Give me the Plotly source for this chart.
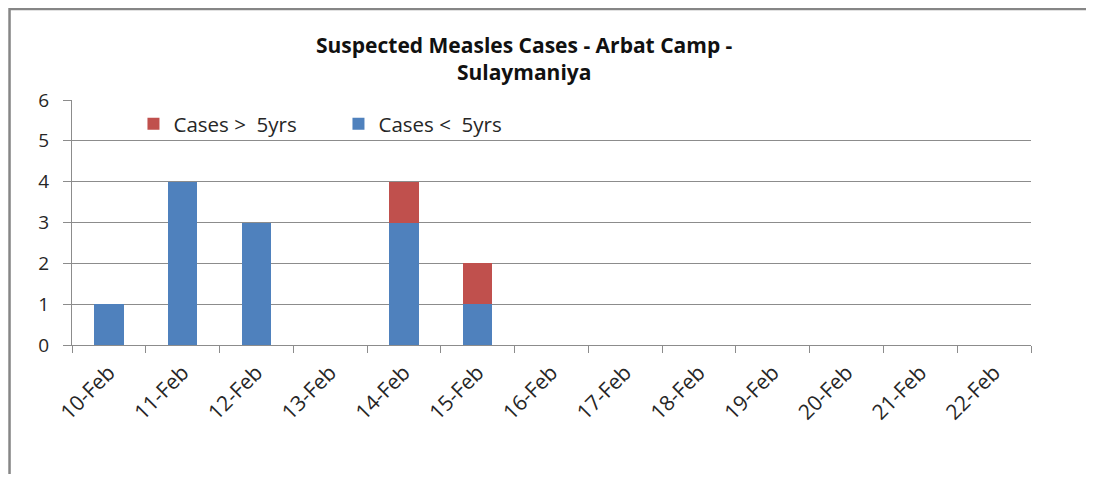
import plotly.graph_objects as go

dates = ["10-Feb", "11-Feb", "12-Feb", "13-Feb", "14-Feb", "15-Feb", "16-Feb",
         "17-Feb", "18-Feb", "19-Feb", "20-Feb", "21-Feb", "22-Feb"]
under5 = [1, 4, 3, 0, 3, 1, 0, 0, 0, 0, 0, 0, 0]
over5 = [0, 0, 0, 0, 1, 1, 0, 0, 0, 0, 0, 0, 0]

# page body has an 8px margin; size the figure to fill the rest of the window
OFF = 8
W, H = 1094 - 2 * OFF, 482 - 2 * OFF
L, T = 71.5 - OFF, 100 - OFF
R = W - (1031 - OFF)
B = H - (345 - OFF)
pw = W - L - R
ph = H - T - B

FONT = "Open Sans"
TXT = "#262626"
grid = "#8c8c8c"


def px_x(x):  # window px -> plot-area paper fraction
    return (x - OFF - L) / pw


def px_y(y):
    return (H - B - (y - OFF)) / ph


fig = go.Figure()
fig.add_trace(go.Bar(x=dates, y=under5, name="Cases <  5yrs",
                     marker=dict(color="#4f81bd", line=dict(width=0)), legendrank=2))
fig.add_trace(go.Bar(x=dates, y=over5, name="Cases >  5yrs",
                     marker=dict(color="#c0504d", line=dict(width=0)), legendrank=1))

fig.update_layout(
    width=W, height=H,
    barmode="stack", bargap=0.6,
    plot_bgcolor="white", paper_bgcolor="white",
    margin=dict(l=L, r=R, t=T, b=B, autoexpand=False),
    font=dict(family=FONT, size=16, color=TXT),
    showlegend=True,
    legend=dict(orientation="h", traceorder="normal", x=px_x(133), xanchor="left",
                y=px_y(124), yanchor="middle", bgcolor="rgba(0,0,0,0)",
                font=dict(family=FONT, size=20.5, color=TXT),
                entrywidth=160, itemclick=False),
    xaxis=dict(type="category", showgrid=False, showline=True, linecolor=grid, linewidth=1,
               ticks="outside", tickson="boundaries", ticklen=7, tickcolor=grid,
               tickangle=-45, ticklabelstandoff=6,
               tickfont=dict(family=FONT, size=21, color=TXT),
               range=[-0.5, 12.5]),
    yaxis=dict(range=[0, 6], dtick=1, showgrid=True, gridcolor=grid, gridwidth=1,
               showline=True, linecolor=grid, linewidth=1, ticks="outside", ticklen=8,
               tickcolor=grid, zeroline=False, ticklabelstandoff=10,
               tickfont=dict(family=FONT, size=19, color=TXT)),
    annotations=[
        dict(text="<b>Suspected Measles Cases - Arbat Camp -<br>Sulaymaniya</b>",
             xref="paper", yref="paper", x=px_x(524), y=px_y(58.5),
             xanchor="center", yanchor="middle", align="center", showarrow=False,
             font=dict(family=FONT, size=21, color="#111111")),
    ],
    shapes=[dict(type="path", xref="paper", yref="paper",
                 path=f"M {px_x(9)} {px_y(490)} L {px_x(9)} {px_y(9)} L {px_x(1100)} {px_y(9)}",
                 line=dict(color="#868686", width=2.5))],
)

fig.write_html("out.html")
